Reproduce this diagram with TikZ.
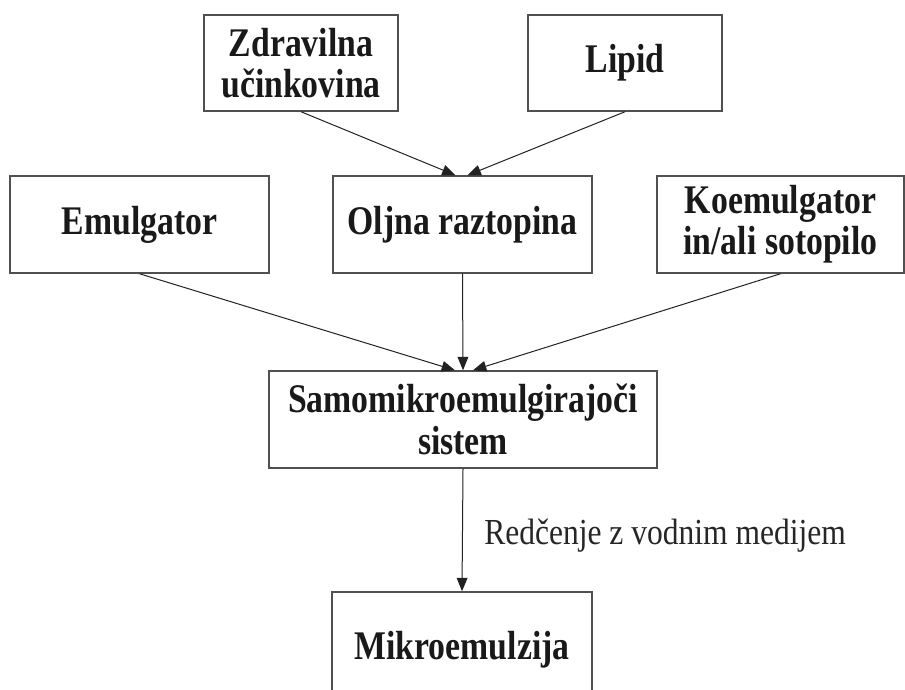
\documentclass[tikz,border=0pt]{standalone}
\usepackage{fontspec}
\setmainfont{Liberation Serif}[FakeStretch=0.83]
\newfontfamily\lblfont{Liberation Serif}[FakeStretch=0.86]
\usetikzlibrary{arrows.meta,calc}
\definecolor{boxgray}{HTML}{505050}
\definecolor{arrowgray}{HTML}{222222}
\begin{document}
\begin{tikzpicture}[x=0.75pt,y=-0.75pt,
  box/.style={draw=boxgray,line width=1.1pt,inner sep=0pt,align=center,
    font=\fontsize{30.5}{31}\selectfont\bfseries,text=black!90},
  arr/.style={draw=arrowgray,line width=0.75pt,-{Triangle[length=10pt,width=8pt]}},
  lbl/.style={font=\lblfont\fontsize{27.5}{30}\selectfont,text=black!85,inner sep=0pt}]
\useasboundingbox (0,0) rectangle (905,689);
\clip (0,0) rectangle (905,689);
\node[box,minimum width=145.5pt,minimum height=72pt] (zd) at (301,63) {Zdravilna\\u\v{c}inkovina};
\node[box,minimum width=145.5pt,minimum height=72pt] (lip) at (625,63) {Lipid};
\node[box,minimum width=194.25pt,minimum height=72.75pt] (emu) at (139.5,224.5) {Emulgator};
\node[box,minimum width=194.25pt,minimum height=72.75pt] (olj) at (462.5,224.5) {Oljna raztopina};
\node[box,minimum width=185.25pt,minimum height=72.75pt] (koe) at (780.5,224.5) {Koemulgator\\in/ali sotopilo};
\node[box,minimum width=291pt,minimum height=72.75pt] (samo) at (463,419.5) {Samomikroemulgirajo\v{c}i\\sistem};
\node[box,minimum width=195pt,minimum height=87pt] (mik) at (462,650) {Mikroemulzija};
\node[lbl,anchor=west] (lab) at (484,536) {Red\v{c}enje z vodnim medijem};
\draw[arr] (zd.south) -- ($(olj.north)+(-7,0)$);
\draw[arr] (lip.south) -- ($(olj.north)+(5,0)$);
\draw[arr] (emu.south) -- ($(samo.north)+(-8,0)$);
\draw[arr] (olj.south) -- (samo.north);
\draw[arr] (koe.south) -- ($(samo.north)+(10,0)$);
\draw[arr] (samo.south) -- (mik.north);
\end{tikzpicture}
\end{document}
